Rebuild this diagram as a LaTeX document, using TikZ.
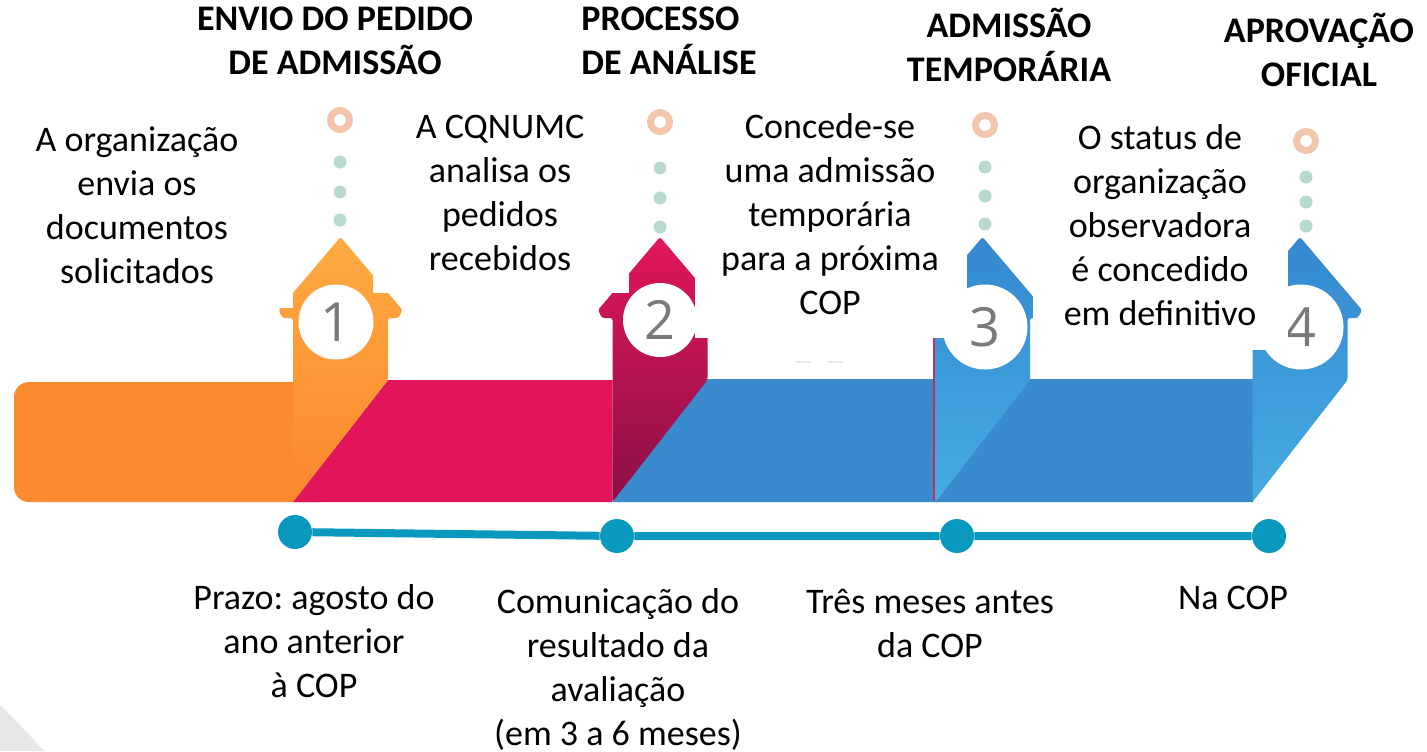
\documentclass[tikz,border=0pt]{standalone}
\usepackage{fontspec}
\setmainfont{Carlito}
\newfontfamily\numfont{Open Sans}
\frenchspacing
\definecolor{orangeband}{HTML}{FC8A2E}
\definecolor{pinkband}{HTML}{E2145A}
\definecolor{blueband}{HTML}{3A8BCE}
\definecolor{tAtop}{HTML}{FFAA42}
\definecolor{tAbot}{HTML}{FB872E}
\definecolor{tBtop}{HTML}{E2165B}
\definecolor{tBbot}{HTML}{8A1048}
\definecolor{tCtop}{HTML}{3588CF}
\definecolor{tCbot}{HTML}{45ACE2}
\definecolor{ringc}{HTML}{F2C6AC}
\definecolor{dotc}{HTML}{B8DACE}
\definecolor{numgrey}{HTML}{7A7A7A}
\definecolor{tlc}{HTML}{0A98BF}
\definecolor{edgepink}{HTML}{C02E6A}
\definecolor{cornergrey}{HTML}{E7E7E7}
\newcommand{\mytower}[3]{%
  \shade[top color=#2, bottom color=#3, rounded corners=1.2pt]
    (#1,237) -- ++(62,73) -- ++(-4,8) -- ++(-10.5,0) -- ++(0,62)
    -- ++(-95,122) -- ++(0,-184) -- ++(-10.5,0) -- ++(-4,-8) -- cycle;}
\tikzset{
  txt/.style={font=\fontsize{18}{22}\selectfont, align=center, inner sep=0pt, anchor=base},
  hd/.style={font=\fontsize{18}{22}\selectfont\bfseries, align=center, inner sep=0pt, anchor=base},
  ring/.style={circle, draw=ringc, line width=3.5pt, minimum size=9.5pt, inner sep=0pt},
  gdot/.style={circle, fill=dotc, minimum size=6.5pt, inner sep=0pt},
  numc/.style={circle, fill=white, inner sep=0pt, text=numgrey, font=\numfont\fontsize{27}{27}\selectfont},
  tdot/.style={circle, fill=tlc, minimum size=17pt, inner sep=0pt},
  tline/.style={draw=tlc, line width=4pt}
}
\begin{document}
\begin{tikzpicture}[x=0.5pt,y=-0.5pt]
\useasboundingbox (0,0) rectangle (1427,751);
% corner grey
\fill[cornergrey] (0,705) .. controls (18,722) and (32,738) .. (44,751) -- (0,751) -- cycle;
% bands and towers
\fill[orangeband, rounded corners=7.5pt] (14,382) rectangle (330,502);
\fill[pinkband] (388,380) -- (612.5,380) -- (612.5,502) -- (293,502) -- cycle;
\mytower{340.5}{tAtop}{tAbot}
\fill[blueband] (707.5,379) -- (936,379) -- (936,502) -- (612.5,502) -- cycle;
\mytower{660}{tBtop}{tBbot}
\fill[blueband] (1030,379) -- (1253,379) -- (1253,502) -- (935,502) -- cycle;
\mytower{982.5}{tCtop}{tCbot}
\draw[edgepink, line width=1.2pt] (934,338) -- (934,500);
\mytower{1300}{tCtop}{tCbot}
% number circles
\node[numc, minimum size=37.5pt] (c1) at (336,322) {1};
\node[numc, minimum size=37pt] (c2) at (660,320) {2};
\node[numc, minimum size=42.5pt] (c3) at (985,327) {3};
\node[numc, minimum size=42.5pt] (c4) at (1301,327) {4};
% white text boxes
\fill[white] (0,95) rectangle (293,308);
\fill[white] (373,95) rectangle (629,293);
\fill[white] (695,95) rectangle (967,338);
\fill[white] (1033,100) rectangle (1288,350);
% faint marks
\draw[gray!18, line width=0.8pt, dash pattern=on 8 off 8] (795,362) -- (848,362);
% dots above towers
\node[ring] (r1) at (340,120) {};
\node[gdot] (g11) at (340,162) {};
\node[gdot] (g12) at (340,192) {};
\node[gdot] (g13) at (340,220) {};
\node[ring] (r2) at (660,122) {};
\node[gdot] (g21) at (660,168) {};
\node[gdot] (g22) at (660,198) {};
\node[gdot] (g23) at (660,227) {};
\node[ring] (r3) at (985,125) {};
\node[gdot] (g31) at (985,167) {};
\node[gdot] (g32) at (985,196) {};
\node[gdot] (g33) at (985,224) {};
\node[ring] (r4) at (1306,141) {};
\node[gdot] (g41) at (1306,177) {};
\node[gdot] (g42) at (1306,202) {};
\node[gdot] (g43) at (1306,226) {};
% timeline
\node[tdot] (d1) at (295,532) {};
\node[tdot] (d2) at (617,536) {};
\node[tdot] (d3) at (957,536) {};
\node[tdot] (d4) at (1269,536) {};
\draw[tline] (d1) -- (d2) -- (d3) -- (d4);
% headings (anchor base = last line baseline)
\node[hd] (h1) at (335,74) {ENVIO DO PEDIDO\\DE ADMISSÃO};
\node[hd, align=left, anchor=base west] (h2) at (581,74) {PROCESSO\\DE ANÁLISE};
\node[hd] (h3) at (1009,81) {ADMISSÃO\\TEMPORÁRIA};
\node[hd] (h4) at (1319,86) {APROVAÇÃO\\OFICIAL};
% step texts
\node[txt] (t1) at (137,283) {A organização\\envia os\\documentos\\solicitados};
\node[txt] (t2) at (500,270) {A CQNUMC\\analisa os\\pedidos\\recebidos};
\node[txt] (t3) at (830,314) {Concede-se\\uma admissão\\temporária\\para a próxima\\COP};
\node[txt] (t4) at (1160,325) {O status de\\organização\\observadora\\é concedido\\em definitivo};
% bottom texts
\node[txt] (b1) at (314,697) {Prazo: agosto do\\ano anterior\\à COP};
\node[txt] (b2) at (618,745) {Comunicação do\\resultado da\\avaliação\\(em 3 a 6 meses)};
\node[txt] (b3) at (930,657) {Três meses antes\\da COP};
\node[txt] (b4) at (1233,609) {Na COP};
\end{tikzpicture}
\end{document}
